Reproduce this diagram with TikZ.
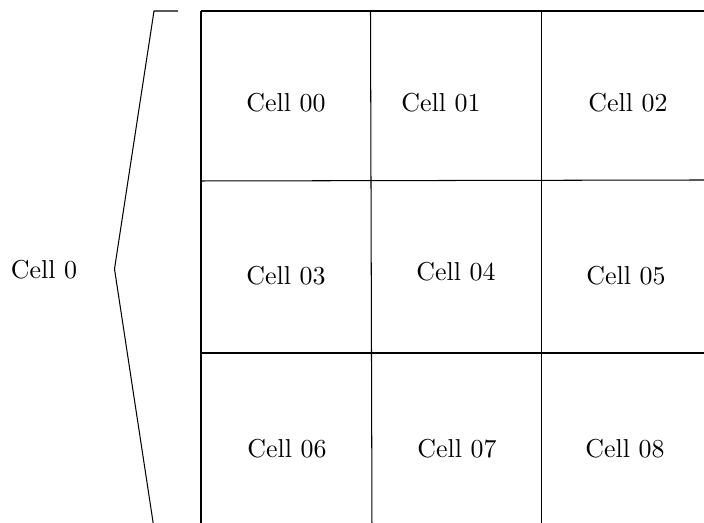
\documentclass[tikz,border=0pt]{standalone}
\usepackage{tikz}
\usetikzlibrary{positioning,calc}

\begin{document}
\begin{tikzpicture}[x=0.386pt,y=-0.386pt]
\tikzset{
 cell/.style={inner sep=0pt,anchor=center},
 gridline/.style={draw=black,line width=0.4pt}
}
\useasboundingbox (0,0) rectangle (704,523);
\clip (0,0) rectangle (704,523);
% grid corners
\coordinate (tl) at (201,11);
\coordinate (tr) at (704,11);
\coordinate (ml) at (201,181);
\coordinate (mr) at (704,180);
\coordinate (bl) at (201,353);
\coordinate (br) at (704,353);
\coordinate (v1t) at (370.5,11);
\coordinate (v1b) at (372,530);
\coordinate (v2t) at (541.5,11);
\coordinate (v2b) at (541.5,530);
\coordinate (v0b) at (201,530);
% cells
\node[cell] (c00) at (286,103) {Cell 00};
\node[cell] (c01) at (441,103) {Cell 01};
\node[cell] (c02) at (628,103) {Cell 02};
\node[cell] (c03) at (286,276) {Cell 03};
\node[cell] (c04) at (456,272) {Cell 04};
\node[cell] (c05) at (626,276) {Cell 05};
\node[cell] (c06) at (287,449) {Cell 06};
\node[cell] (c07) at (457,449) {Cell 07};
\node[cell] (c08) at (625,449) {Cell 08};
\node[cell] (c0) at (44,270) {Cell 0};
% lines
\draw[gridline] (tl)--(tr);
\draw[gridline] (ml)--(mr);
\draw[gridline] (bl)--(br);
\draw[gridline] (tl)--(v0b);
\draw[gridline] (v1t)--(v1b);
\draw[gridline] (v2t)--(v2b);
% bracket
\coordinate (btop) at (178,11);
\coordinate (btip) at (114.5,269);
\coordinate (bbot) at (155,535);
\draw[gridline] (btop)--(154,11)--(btip)--(bbot);
\end{tikzpicture}
\end{document}
